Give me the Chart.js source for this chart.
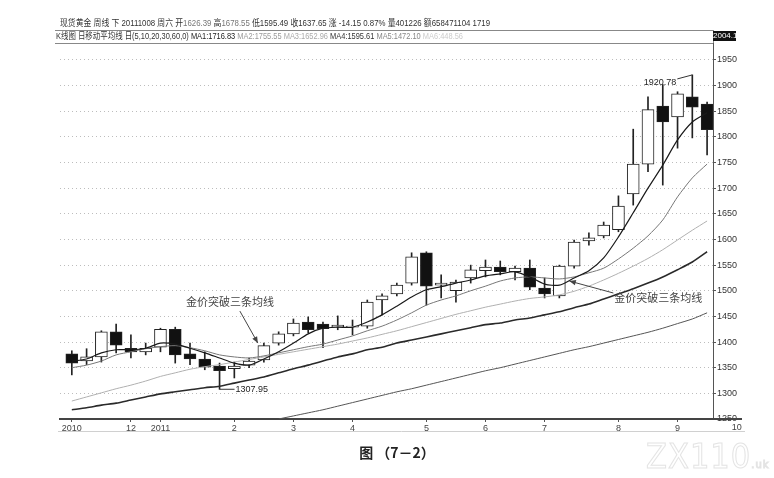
<!DOCTYPE html>
<html>
<head>
<meta charset="utf-8">
<script src="https://cdn.jsdelivr.net/npm/chart.js@4.4.1/dist/chart.umd.min.js"></script>
<style>
body { margin: 0; background: #fff; }
#wrap { position: relative; width: 774px; height: 478px; overflow: hidden; font-family: "Liberation Sans", "Noto Sans CJK SC", sans-serif; }
canvas { position: absolute; left: 0; top: 0; }
.row { position: absolute; white-space: nowrap; font-size: 9px; line-height: 10px; color: #333; transform-origin: 0 50%; }
.g { color: #777; }
#box { position: absolute; left: 713px; top: 31px; width: 23px; height: 10px; background: #111; color: #fff; font-size: 8px; line-height: 10px; text-align: center; }
#cap { position: absolute; left: 347px; top: 442px; width: 100px; text-align: center; font: bold 14px "Noto Sans CJK SC", sans-serif; color: #222; }
#wm { position: absolute; left: 646px; top: 436px; font: 34px "DejaVu Sans Condensed", "Liberation Sans", sans-serif; color: transparent; -webkit-text-stroke: 1px #e4e4e4; letter-spacing: 1px; }
#wm small { font-size: 11px; }
</style>
</head>
<body>
<div id="wrap">
<canvas id="chart" width="774" height="478"></canvas>
<div class="row" data-w="430" style="left:60px;top:18px">现货黄金 周线 下 20111008 周六 开<span class="g">1626.39</span> 高<span class="g">1678.55</span> 低1595.49 收1637.65 涨 -14.15 0.87% 量401226 额658471104 1719</div>
<div class="row" data-w="407" style="left:56px;top:31px">K线图 日移动平均线 日(5,10,20,30,60,0) <span style="color:#222">MA1:1716.83</span> <span style="color:#999">MA2:1755.55</span> <span style="color:#aaa">MA3:1652.96</span> <span style="color:#333">MA4:1595.61</span> <span style="color:#888">MA5:1472.10</span> <span style="color:#ccc">MA6:448.56</span></div>
<div id="box">2004.15</div>
<div id="cap">图 （7－2）</div>
<div id="wm">ZX110<small>.uk</small></div>
</div>
<script>
// weekly candles, gold spot, Nov 2010 - Sep 2011
const opens  = [1377,1363,1371,1420,1388,1381,1390,1425,1377,1367,1353,1348,1355,1365,1398,1416,1439,1435,1429,1429,1431,1482,1494,1515,1574,1511,1500,1525,1539,1546,1537,1544,1505,1490,1548,1597,1607,1619,1689,1747,1860,1839,1878,1864]
const highs  = [1383,1387,1422,1435,1414,1398,1427,1429,1398,1381,1359,1361,1369,1398,1420,1445,1449,1439,1451,1443,1482,1494,1515,1574,1576,1531,1521,1550,1560,1558,1548,1560,1525,1550,1599,1613,1634,1685,1815,1878,1902,1888,1920.78,1868]
const lows   = [1336,1356,1361,1379,1369,1375,1381,1359,1356,1346,1307.95,1330,1350,1361,1394,1412,1418,1389,1424,1414,1427,1453,1490,1511,1472,1486,1478,1515,1527,1531,1521,1502,1486,1486,1544,1589,1603,1615,1667,1732,1706,1778,1798,1765]
const closes = [1359,1371,1420,1394,1381,1388,1425,1375,1367,1351,1344,1353,1363,1393,1416,1437,1424,1426,1433,1431,1478,1490,1511,1566,1509,1515,1517,1541,1546,1537,1544,1507,1494,1548,1595,1603,1628,1665,1747,1853,1829,1884,1858,1814]

// moving averages, one value per week
const ma5  = [1363,1367,1379,1385,1385,1388,1398,1396,1388,1379,1369,1359,1355,1367,1381,1398,1416,1427,1429,1429,1439,1453,1470,1488,1502,1508,1515,1521,1529,1533,1537,1527,1513,1511,1525,1539,1564,1605,1652,1700,1745,1794,1829,1847]
const ma10 = [1350,1355,1363,1375,1381,1387,1391,1393,1389,1383,1375,1371,1369,1373,1379,1385,1391,1396,1404,1412,1422,1431,1443,1457,1472,1482,1490,1500,1509,1519,1525,1527,1525,1523,1527,1535,1544,1562,1583,1607,1638,1683,1720,1747]
const ma20 = [1285,1293,1301,1309,1316,1324,1333,1340,1347,1352,1356,1361,1366,1371,1376,1381,1386,1391,1396,1402,1408,1415,1422,1430,1438,1446,1454,1461,1468,1474,1480,1485,1488,1492,1499,1509,1521,1534,1548,1563,1580,1599,1618,1636]
const ma30 = [1268,1272,1277,1281,1287,1293,1299,1303,1307,1311,1314,1320,1326,1332,1340,1348,1355,1363,1371,1377,1385,1390,1398,1404,1410,1416,1422,1428,1434,1437,1443,1447,1453,1459,1467,1474,1484,1494,1504,1515,1527,1541,1556,1576]
const ma60Start = 14
const ma60 = [1250,1256,1262,1268,1275,1282,1289,1296,1303,1309,1316,1323,1330,1337,1344,1350,1357,1364,1371,1378,1385,1391,1398,1405,1412,1419,1427,1436,1445,1457]

// axis labels
const monthIdx    = [0, 4, 6, 11, 15, 19, 24, 28, 32, 37, 41, 45]
const monthLabels = ['2010', '12', '2011', '2', '3', '4', '5', '6', '7', '8', '9', '10']
const yTicks = [1250,1300,1350,1400,1450,1500,1550,1600,1650,1700,1750,1800,1850,1900,1950]

// fit the two header rows to their width in the picture
document.querySelectorAll('.row').forEach(el => {
    const w = el.getBoundingClientRect().width
    el.style.transform = 'scaleX(' + (el.dataset.w / w) + ')'
})

const weeks = opens.map((_, i) => i)
const tickFont = { family: '"Liberation Sans", sans-serif', size: 9 }

function arrow(ctx, x1, y1, x2, y2) {
    ctx.beginPath()
    ctx.moveTo(x1, y1)
    ctx.lineTo(x2, y2)
    ctx.stroke()
    const a = Math.atan2(y2 - y1, x2 - x1)
    ctx.beginPath()
    ctx.moveTo(x2, y2)
    ctx.lineTo(x2 - 7 * Math.cos(a - 0.4), y2 - 7 * Math.sin(a - 0.4))
    ctx.lineTo(x2 - 7 * Math.cos(a + 0.4), y2 - 7 * Math.sin(a + 0.4))
    ctx.closePath()
    ctx.fill()
}

function seg(ctx, x1, y1, x2, y2) {
    ctx.beginPath()
    ctx.moveTo(x1, y1)
    ctx.lineTo(x2, y2)
    ctx.stroke()
}

const extras = {
    id: 'extras',
    afterDraw(chart) {
        const { ctx, chartArea: a, scales: { x, y } } = chart
        ctx.save()
        // header frame
        ctx.strokeStyle = '#888'
        ctx.lineWidth = 1
        seg(ctx, 55, 30.5, 713, 30.5)
        seg(ctx, 55, a.top + 0.5, a.right, a.top + 0.5)
        seg(ctx, a.right + 0.5, 30, a.right + 0.5, a.top)
        // x axis runs on under the price labels
        ctx.strokeStyle = '#444'
        ctx.lineWidth = 2
        seg(ctx, a.right, a.bottom, 742, a.bottom)
        ctx.strokeStyle = '#d0d0d0'
        ctx.lineWidth = 1
        seg(ctx, 58, a.bottom + 12.5, 745, a.bottom + 12.5)
        // month label past the last week
        ctx.fillStyle = '#444'
        ctx.font = '9px "Liberation Sans", sans-serif'
        ctx.textAlign = 'center'
        ctx.textBaseline = 'top'
        monthIdx.forEach((v, i) => {
            if (v > x.max) ctx.fillText(monthLabels[i], x.getPixelForValue(v), a.bottom + 4)
        })

        // low and high marks
        ctx.strokeStyle = '#333'
        ctx.fillStyle = '#222'
        const lo = lows.indexOf(Math.min(...lows))
        let px = x.getPixelForValue(lo), py = y.getPixelForValue(lows[lo])
        seg(ctx, px, py, px + 15, py)
        ctx.textAlign = 'left'
        ctx.textBaseline = 'middle'
        ctx.fillText(lows[lo].toFixed(2), px + 16, py)
        const hi = highs.indexOf(Math.max(...highs))
        px = x.getPixelForValue(hi); py = y.getPixelForValue(highs[hi])
        seg(ctx, px - 15, py + 4, px, py)
        ctx.textAlign = 'right'
        ctx.fillText(highs[hi].toFixed(2), px - 16, py + 8)

        // breakout notes
        ctx.font = '11px "Noto Sans CJK SC", sans-serif'
        ctx.fillStyle = '#444'
        ctx.strokeStyle = '#444'
        px = x.getPixelForValue(13); py = y.getPixelForValue(highs[13])
        ctx.textAlign = 'center'
        ctx.fillText('金价突破三条均线', px - 34, py - 41)
        arrow(ctx, px - 24, py - 32, px - 6, py)
        px = x.getPixelForValue(33); py = y.getPixelForValue((opens[33] + closes[33]) / 2)
        ctx.textAlign = 'left'
        ctx.fillText('金价突破三条均线', px + 55, py + 17)
        arrow(ctx, px + 54, py + 12, px + 10, py)
        ctx.restore()
    }
}

function maLine(values, start, color, width) {
    return {
        type: 'line',
        data: values.map((v, i) => ({ x: start + i, y: v })),
        borderColor: color,
        borderWidth: width,
        pointRadius: 0,
        tension: 0.25,
        order: 0
    }
}

new Chart(document.getElementById('chart'), {
    type: 'bar',
    data: {
        datasets: [
            maLine(ma5, 0, '#1a1a1a', 1.2),
            maLine(ma10, 0, '#777', 1),
            maLine(ma20, 0, '#b0b0b0', 1),
            maLine(ma30, 0, '#2a2a2a', 1.6),
            maLine(ma60, ma60Start, '#555', 1),
            {
                data: weeks.map(i => ({ x: i, y: [opens[i], closes[i]] })),
                backgroundColor: weeks.map(i => closes[i] >= opens[i] ? '#fff' : '#111'),
                borderColor: '#222',
                borderWidth: 1,
                borderSkipped: false,
                grouped: false,
                barPercentage: 1,
                categoryPercentage: 1,
                maxBarThickness: 12,
                order: 1
            },
            {
                data: weeks.map(i => ({ x: i, y: [lows[i], highs[i]] })),
                backgroundColor: '#222',
                grouped: false,
                barPercentage: 1,
                categoryPercentage: 1,
                maxBarThickness: 1,
                order: 2
            }
        ]
    },
    options: {
        responsive: false,
        animation: false,
        events: [],
        layout: { padding: { left: 60, top: 43, right: 0, bottom: 0 } },
        plugins: { legend: { display: false }, tooltip: { enabled: false } },
        scales: {
            x: {
                type: 'linear',
                offset: false,
                min: -0.8,
                max: 43.4,
                afterBuildTicks: s => { s.ticks = monthIdx.filter(v => v <= s.max).map(v => ({ value: v })) },
                afterFit: s => { s.height = 59 },
                ticks: {
                    autoSkip: false,
                    maxRotation: 0,
                    padding: 1,
                    color: '#444',
                    font: tickFont,
                    callback: v => monthLabels[monthIdx.indexOf(v)]
                },
                grid: { offset: false, drawOnChartArea: false, tickLength: 3, tickColor: '#555' },
                border: { color: '#444', width: 2 }
            },
            y: {
                position: 'right',
                min: 1250,
                max: 1983,
                afterBuildTicks: s => { s.ticks = yTicks.map(v => ({ value: v })) },
                afterFit: s => { s.width = 61 },
                ticks: { padding: 1, color: '#333', font: tickFont, callback: v => String(v) },
                grid: { color: '#bdbdbd', tickLength: 3, tickColor: '#555' },
                border: { color: '#555', width: 1, dash: [1, 3] }
            }
        }
    },
    plugins: [extras]
})
</script>
</body>
</html>
